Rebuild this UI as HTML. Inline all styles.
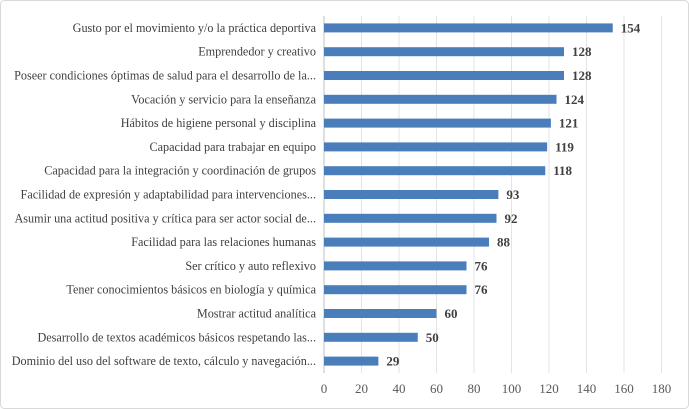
<!DOCTYPE html>
<html><head><meta charset="utf-8"><style>
body{margin:0;background:#fff;}
svg{display:block;font-family:"Liberation Serif",serif;}
</style></head><body>
<svg width="689" height="409">
<rect x="0.5" y="0.5" width="688" height="408" rx="4" fill="#fff" stroke="#d9d9d9"/>
<g id="grid"></g><g id="bars"></g><g id="labels"></g><g id="ticks"></g>
</svg>
<script>
const categories=["Gusto por el movimiento y/o la práctica deportiva","Emprendedor y creativo","Poseer condiciones óptimas de salud para el desarrollo de la...","Vocación y servicio para la enseñanza","Hábitos de higiene personal y disciplina","Capacidad para trabajar en equipo","Capacidad para la integración y coordinación de grupos","Facilidad de expresión y adaptabilidad para intervenciones...","Asumir una actitud positiva y crítica para ser actor social de...","Facilidad para las relaciones humanas","Ser crítico y auto reflexivo","Tener conocimientos básicos en biología y química","Mostrar actitud analítica","Desarrollo de textos académicos básicos respetando las...","Dominio del uso del software de texto, cálculo y navegación..."];
const values=[154,128,128,124,121,119,118,93,92,88,76,76,60,50,29];
const tickLabels=[0,20,40,60,80,100,120,140,160,180];
const NS="http://www.w3.org/2000/svg";
const x0=324,xPer=1.875,plotTop=16,plotBottom=373;
const band=(plotBottom-plotTop)/categories.length;
const X=v=>x0+v*xPer;
const Y=i=>plotTop+band*(i+0.5);
function mk(t,a,p){const e=document.createElementNS(NS,t);for(const k in a)e.setAttribute(k,a[k]);p.appendChild(e);return e;}
const g=document.getElementById('grid'),b=document.getElementById('bars'),l=document.getElementById('labels'),tk=document.getElementById('ticks');
tickLabels.forEach(t=>{
const ln=mk('line',{x1:X(t),x2:X(t),y1:plotTop,y2:plotBottom,stroke:t===0?'#bfbfbf':'#e3e3e3','stroke-width':1},g);


const tx=mk('text',{x:X(t),y:393,'text-anchor':'middle','font-size':13,fill:'#595959'},tk);
tx.textContent=t;


});
categories.forEach((c,i)=>{
const r=mk('rect',{x:X(0),y:Y(i)-4.5,width:X(values[i])-X(0),height:9,fill:'#4a7ebb'},b);


const v=mk('text',{x:X(values[i])+8,y:Y(i)+4.5,'font-size':13,'font-weight':'bold',fill:'#404040'},l);
v.textContent=values[i];


const cl=mk('text',{x:316,y:Y(i)+4,'text-anchor':'end','font-size':12.2,fill:'#404040'},l);
cl.textContent=c;


});
</script>
</body></html>
